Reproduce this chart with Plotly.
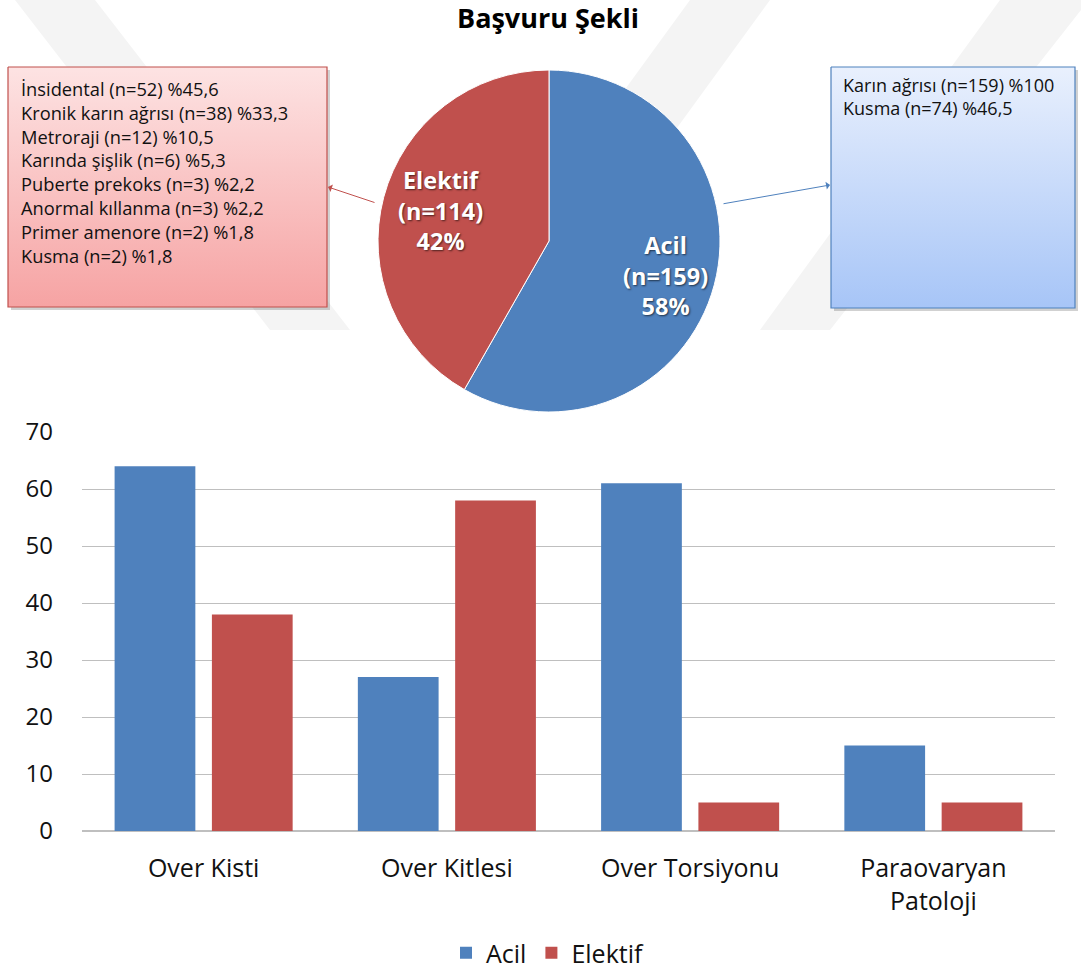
import plotly.graph_objects as go

# ---- data ----
pie_labels = ["Acil", "Elektif"]
pie_values = [159, 114]
pie_pct = ["58%", "42%"]

categories = ["Over Kisti", "Over Kitlesi", "Over Torsiyonu", "Paraovaryan<br>Patoloji"]
acil_values = [64, 27, 61, 15]
elektif_values = [38, 58, 5, 5]

elektif_reasons = [
    "İnsidental (n=52) %45,6",
    "Kronik karın ağrısı (n=38) %33,3",
    "Metroraji (n=12) %10,5",
    "Karında şişlik (n=6) %5,3",
    "Puberte prekoks (n=3) %2,2",
    "Anormal kıllanma (n=3) %2,2",
    "Primer amenore (n=2) %1,8",
    "Kusma (n=2) %1,8",
]
acil_reasons = [
    "Karın ağrısı (n=159) %100",
    "Kusma (n=74) %46,5",
]

title_text = "Başvuru Şekli"

BLUE = "#4f81bd"
RED = "#c0504d"
FONT = "Open Sans"
W, H = 1081, 968


def px(x):
    return x / W


def py(y):
    return 1 - y / H


fig = go.Figure()

# ---- faint watermark bands (background decoration) ----
WM = "#f4f4f4"
bands = [
    [(15, 0), (95, 0), (350, 330), (270, 330)],
    [(690, 0), (770, 0), (530, 330), (450, 330)],
    [(1000, 0), (1081, 0), (1081, 10), (830, 330), (760, 330)],
]
for pts in bands:
    path = "M " + " L ".join(f"{a},{b}" for a, b in pts) + " Z"
    fig.add_shape(type="path", xref="x2", yref="y2", path=path,
                  fillcolor=WM, line_width=0, layer="below")

# ---- bar chart ----
fig.add_trace(go.Bar(x=categories, y=acil_values, name="Acil", marker_color=BLUE,
                     marker_line_width=0))
fig.add_trace(go.Bar(x=categories, y=elektif_values, name="Elektif", marker_color=RED,
                     marker_line_width=0))

# ---- decorative boxes (gradient) on overlay pixel axes ----
def box(x0, y0, x1, y1, top, bottom, line):
    fig.add_trace(go.Scatter(
        x=[x0, x1, x1, x0, x0], y=[y0, y0, y1, y1, y0],
        xaxis="x2", yaxis="y2", mode="lines", fill="toself",
        line=dict(color=line, width=1.2),
        fillgradient=dict(type="vertical", colorscale=[[0, bottom], [1, top]]),
        showlegend=False, hoverinfo="skip"))

fig.add_shape(type="rect", xref="x2", yref="y2", x0=11, y0=70, x1=330, y1=310,
              fillcolor="rgba(0,0,0,0.18)", line_width=0, layer="below")
fig.add_shape(type="rect", xref="x2", yref="y2", x0=834, y0=70, x1=1078, y1=311,
              fillcolor="rgba(0,0,0,0.18)", line_width=0, layer="below")
box(8, 67, 327, 307, "#fde3e3", "#f6a3a3", "#c0504d")
box(831, 67, 1075, 308, "#e9f0fd", "#a7c5f7", "#4f81bd")

# ---- pie ----
cx, cy, r = 549, 241, 171
fig.add_trace(go.Pie(
    labels=pie_labels, values=pie_values, sort=False, direction="clockwise", rotation=0,
    marker=dict(colors=[BLUE, RED], line=dict(color="#ffffff", width=1)),
    textinfo="none",
    domain=dict(x=[px(cx - r), px(cx + r)], y=[py(cy + r), py(cy - r)]),
    showlegend=False, hoverinfo="label+value+percent"))

annotations = []
# pie slice labels
label_pos = [(665, 275), (440, 211)]
for lab, val, pct, (lx, ly) in zip(pie_labels, pie_values, pie_pct, label_pos):
    annotations.append(dict(text=f"<b>{lab}<br>(n={val})<br>{pct}</b>", x=px(lx), y=py(ly),
                            xref="paper", yref="paper", showarrow=False, align="center",
                            xanchor="center", yanchor="middle",
                            font=dict(family=FONT, size=23.5, color="white",
                                      shadow="1px 1px 2px rgba(0,0,0,0.6)")))
# box texts (one multi-line block per box)
annotations.append(dict(text="<br>".join(elektif_reasons), x=px(19), y=py(74),
                        xref="paper", yref="paper", xanchor="left", yanchor="top",
                        align="left", showarrow=False,
                        font=dict(family=FONT, size=18.3, color="#111")))
annotations.append(dict(text="<br>".join(acil_reasons), x=px(841), y=py(71),
                        xref="paper", yref="paper", xanchor="left", yanchor="top",
                        align="left", showarrow=False,
                        font=dict(family=FONT, size=18, color="#111")))
# arrows
annotations.append(dict(x=px(328), y=py(187), xref="paper", yref="paper", text="",
                        showarrow=True, arrowhead=1, arrowsize=1.3, arrowwidth=1,
                        arrowcolor=RED, ax=376 - 328, ay=203 - 187))
annotations.append(dict(x=px(830), y=py(185), xref="paper", yref="paper", text="",
                        showarrow=True, arrowhead=1, arrowsize=1.3, arrowwidth=1,
                        arrowcolor=BLUE, ax=722 - 830, ay=204 - 185))
# title
annotations.append(dict(text="<b>" + title_text + "</b>", x=px(548), y=py(17),
                        xref="paper", yref="paper", showarrow=False,
                        xanchor="center", yanchor="middle",
                        font=dict(family=FONT, size=27, color="#000")))

fig.update_layout(
    width=W, height=H,
    margin=dict(l=0, r=0, t=0, b=0, autoexpand=False),
    paper_bgcolor="white", plot_bgcolor="rgba(0,0,0,0)",
    font=dict(family=FONT, color="#000"),
    barmode="group", bargap=0.2, bargroupgap=0.17,
    xaxis=dict(domain=[px(82), px(1055)], anchor="y", automargin=False,
               showgrid=False, showline=False, zeroline=False,
               tickfont=dict(family=FONT, size=25, color="#111"), ticklabelstandoff=20),
    yaxis=dict(domain=[py(831), py(432)], anchor="x", range=[0, 70], automargin=False,
               tickvals=[0, 10, 20, 30, 40, 50, 60, 70], showgrid=True,
               gridcolor="#bfbfbf", gridwidth=1, zeroline=True, zerolinecolor="#bfbfbf",
               showline=False, tickfont=dict(family=FONT, size=24, color="#111"),
               ticklabelstandoff=28),
    xaxis2=dict(domain=[0, 1], range=[0, W], anchor="y2", visible=False, fixedrange=True),
    yaxis2=dict(domain=[0, 1], range=[H, 0], anchor="x2", visible=False, fixedrange=True),
    legend=dict(orientation="h", x=px(548), xanchor="center", y=py(953), yanchor="middle",
                font=dict(family=FONT, size=25, color="#111"), itemwidth=30,
                traceorder="normal"),
    annotations=annotations,
    showlegend=True,
)

fig.write_html("out.html")
